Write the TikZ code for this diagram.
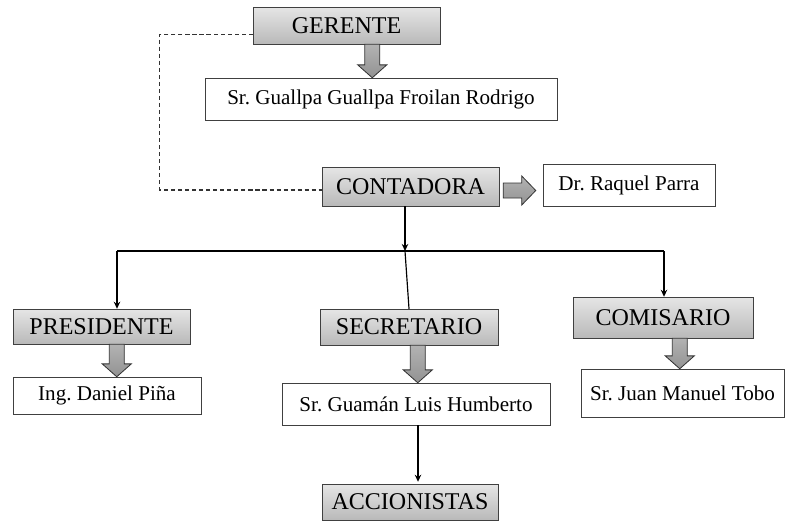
\documentclass[tikz,border=0pt]{standalone}
\usepackage{fontspec}
\setmainfont{Liberation Serif}
\frenchspacing
\usetikzlibrary{arrows.meta}
\usetikzlibrary{calc}
\tikzset{cargo/.style = {draw = black!75, top color = gray!20, bottom color = gray!55, inner sep = 0,
    font = \fontsize{20.5}{22}\selectfont},
  nombre/.style = {draw = black!75, fill = white, inner sep = 0, font = \fontsize{18}{20}\selectfont},
  fatarrow/.style = {draw = black!80, top color = gray!60, bottom color = gray!85, line width = 0.7pt},
  enlace/.style = {line width = 1pt, black}}
% block arrows, from #1 to #2
\newcommand{\fatdown}[2]{%
  \path [fatarrow] let \p1 = (#1), \p2 = (#2) in
    (\x1 - 6.4pt, \y1) -- (\x1 - 6.4pt, \y2 + 11pt) -- (\x1 - 12.4pt, \y2 + 11pt) -- (\x1, \y2)
    -- (\x1 + 12.4pt, \y2 + 11pt) -- (\x1 + 6.4pt, \y2 + 11pt) -- (\x1 + 6.4pt, \y1) -- cycle;}
\newcommand{\fatright}[2]{%
  \path [fatarrow] let \p1 = (#1), \p2 = (#2) in
    (\x1, \y1 + 6.4pt) -- (\x2 - 12pt, \y1 + 6.4pt) -- (\x2 - 12pt, \y1 + 12.4pt) -- (\x2, \y1)
    -- (\x2 - 12pt, \y1 - 12.4pt) -- (\x2 - 12pt, \y1 - 6.4pt) -- (\x1, \y1 - 6.4pt) -- cycle;}

\begin{document}
\begin{tikzpicture}[x = 0.03cm, y = -0.03cm]
  \useasboundingbox (0, 0) rectangle (789, 522);

  \node [cargo, minimum width = 187*0.03cm, minimum height = 37*0.03cm] (gerente) at (346.5, 25.5) {GERENTE};
  \node [nombre, minimum width = 352*0.03cm, minimum height = 42*0.03cm] (gerentenom) at (381, 99) {Sr. Guallpa Guallpa Froilan Rodrigo};

  \node [cargo, minimum width = 177*0.03cm, minimum height = 39*0.03cm] (contadora) at (410.5, 186.5) {CONTADORA};
  \node [nombre, minimum width = 172*0.03cm, minimum height = 42*0.03cm] (contadoranom) at (629, 185) {Dr. Raquel Parra};

  \node [cargo, minimum width = 177*0.03cm, minimum height = 35*0.03cm] (presidente) at (101.5, 326.5) {PRESIDENTE};
  \node [nombre, minimum width = 188*0.03cm, minimum height = 37*0.03cm] (presidentenom) at (107, 395.5) {Ing. Daniel Piña};

  \node [cargo, minimum width = 178*0.03cm, minimum height = 36*0.03cm] (secretario) at (409, 327) {SECRETARIO};
  \node [nombre, minimum width = 268*0.03cm, minimum height = 42*0.03cm] (secretarionom) at (416, 404) {Sr. Guamán Luis Humberto};

  \node [cargo, minimum width = 180*0.03cm, minimum height = 41*0.03cm] (comisario) at (663, 317.5) {COMISARIO};
  \node [nombre, minimum width = 203*0.03cm, minimum height = 48*0.03cm] (comisarionom) at (682.5, 393) {Sr. Juan Manuel Tobo};

  \node [cargo, minimum width = 176*0.03cm, minimum height = 36*0.03cm] (accionistas) at (410, 502) {ACCIONISTAS};

  % block arrows
  \fatdown{$(gerente.south west) + (119.5, 0)$}{$(gerentenom.north west) + (161, 0)$}
  \fatright{$(contadora.east) + (4, 4)$}{$(contadoranom.west) + (-7, 0)$}
  \fatdown{$(presidente.south west) + (104, 0)$}{$(presidentenom.north west) + (104, 0)$}
  \fatdown{$(secretario.south west) + (98, 0)$}{$(secretarionom.north west) + (136, 0)$}
  \fatdown{$(comisario.south west) + (107, 0)$}{$(comisarionom.north west) + (99, 0)$}

  % dashed link
  \coordinate (dashstart) at ($(gerente.south west) + (0, -10)$);
  \draw [black!80, line width = 1pt, dash pattern = on 3.5pt off 2.5pt]
    (dashstart) -- ++(-93, 0) |- ($(contadora.west) + (0, 3.5)$);

  % lines
  \coordinate (bus) at (405, 251);
  \coordinate (busizq) at (117, 251);
  \coordinate (busder) at (664, 251);
  \draw [enlace, -{Stealth[length = 6pt, width = 5.5pt]}] ($(contadora.south) + (-5.5, 0)$) -- (bus);
  \draw [enlace] (busizq) -- (busder);
  \draw [enlace, -{Stealth[length = 6pt, width = 5.5pt]}] (busizq) -- (busizq |- presidente.north);
  \draw [enlace, -{Stealth[length = 6pt, width = 5.5pt]}] (busder) -- (busder |- comisario.north);
  \draw [enlace] (bus) -- (secretario.north);
  \draw [enlace, -{Stealth[length = 6pt, width = 5.5pt]}] ($(secretarionom.south) + (2, 0)$) -- ($(secretarionom.south |- accionistas.north) + (2, -2)$);
\end{tikzpicture}
\end{document}
